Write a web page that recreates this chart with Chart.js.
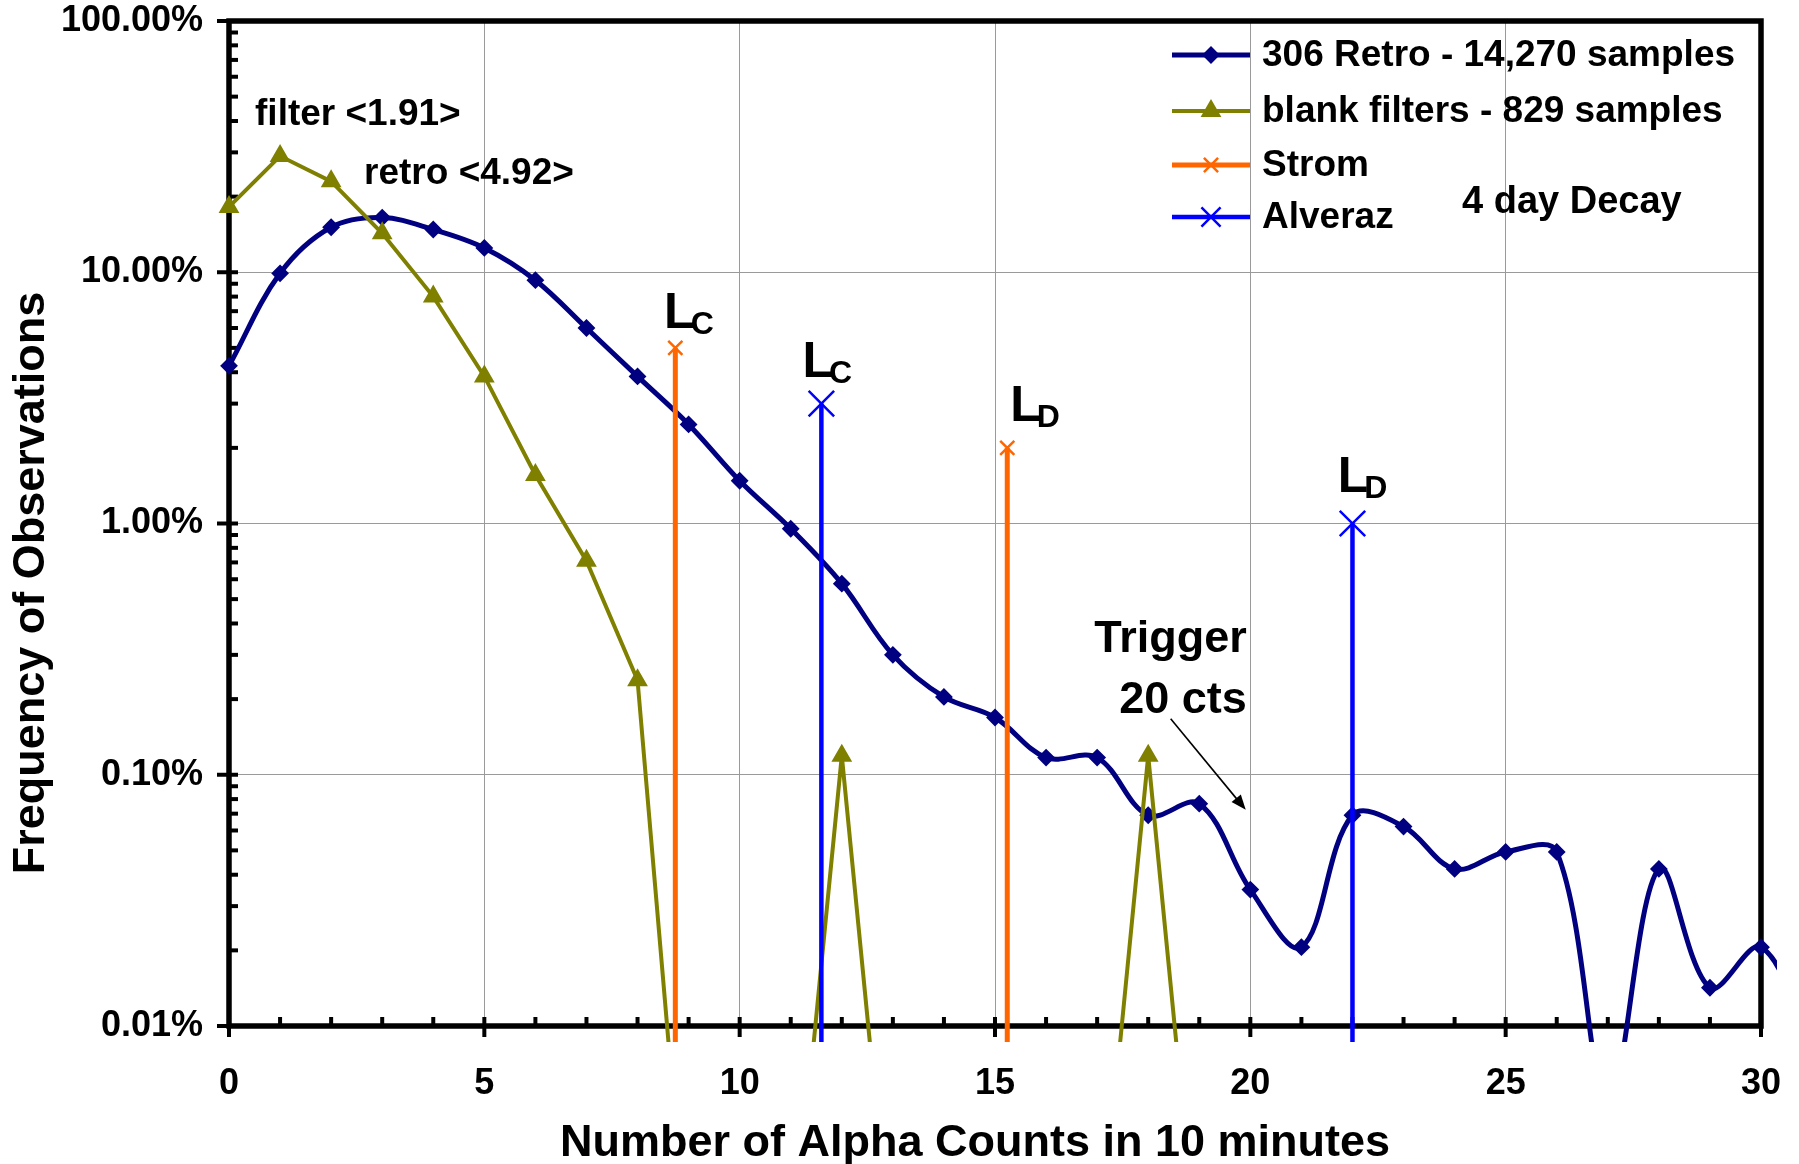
<!DOCTYPE html>
<html><head><meta charset="utf-8">
<script src="https://cdn.jsdelivr.net/npm/chart.js@4.4.1/dist/chart.umd.min.js"></script>
<style>html,body{margin:0;padding:0;background:#fff}#wrap{width:1799px;height:1164px;position:relative}</style>
</head><body><div id="wrap"><canvas id="c"></canvas></div>
<script>
// ---- data (percent of observations) ----
const retroCounts = [0,1,2,3,4,5,6,7,8,9,10,11,12,13,14,15,16,17,18,19,20,21,22,23,24,25,26,27,28,29,30,31];
const retroPct    = [4.24,9.9,15.1,16.5,14.8,12.5,9.3,6.0,3.85,2.48,1.48,0.953,0.576,0.300,0.204,0.169,0.117,0.117,0.069,0.0767,0.0349,0.0206,0.069,0.0622,0.0422,0.0493,0.0493,0.005,0.0422,0.0142,0.0206,0.008];
const blankCounts = [0,1,2,3,4,5,6,7,8,9,10,11,12,13,14,15,16,17,18,19,20,21,22,23,24,25,26,27,28,29,30];
const blankPct    = [18.2,29.0,23.0,14.3,8.0,3.85,1.56,0.71,0.238,0,0,0,0.119,0,0,0,0,0,0.119,0,0,0,0,0,0,0,0,0,0,0,0];
const stromCounts = [8.74,15.24];          // Strom LC, LD
const stromPct    = [5,2];
const alverazCounts = [11.6,22];           // Alveraz LC, LD
const alverazPct    = [3,1];
const yTickValues = [0.01,0.1,1,10,100];
const seriesNames = ['306 Retro - 14,270 samples','blank filters - 829 samples','Strom','Alveraz'];
// zero values cannot sit on a log axis: they are drawn far below the axis (clipped)
const LOG_FLOOR = 0.001;

// annotations placed in data coordinates
const limitLabels = [
  {main:'L', sub:'C', x:8.52,  y:5.98},
  {main:'L', sub:'C', x:11.23, y:3.82},
  {main:'L', sub:'D', x:15.30, y:2.55},
  {main:'L', sub:'D', x:21.71, y:1.33}
];
const noteLabels = [
  {text:'filter <1.91>', x:0.51, y:42.2, align:'left', size:37},
  {text:'retro <4.92>',  x:2.645, y:24.6, align:'left', size:37},
  {text:'Trigger',       x:19.93, y:0.345, align:'right', size:45},
  {text:'20 cts',        x:19.93, y:0.197, align:'right', size:45}
];
const arrowFrom = {x:18.44, y:0.167};
const arrowTo   = {x:19.91, y:0.0725};

const FONT = '"Liberation Sans", Arial, sans-serif';
const NAVY='#000080', OLIVE='#808000', ORANGE='#FF6600', BLUE='#0000FF';

const floorV = v => v > 0 ? v : LOG_FLOOR;
const pairs = (xs, ys) => xs.map((x,i)=>({x, y: floorV(ys[i])}));
const spikes = (xs, tops) => {
  const out = [];
  xs.forEach((x,i)=>{
    if (i % 2 === 0) { out.push({x, y: tops[i]}); out.push({x, y: floorV(0)}); }
    else { out.push({x, y: floorV(0)}); out.push({x, y: tops[i]}); }
  });
  return out;
};

const datasets = [
  {label: seriesNames[0], data: pairs(retroCounts, retroPct), borderColor:NAVY, backgroundColor:NAVY,
   borderWidth:5, tension:0.36, pointStyle:'rectRot', pointRadius:7.5, pointBorderWidth:2, order:3, clip:16},
  {label: seriesNames[1], data: pairs(blankCounts, blankPct), borderColor:OLIVE, backgroundColor:OLIVE,
   borderWidth:4, tension:0, pointStyle:'triangle', pointRadius:10, pointBorderWidth:2, order:2, clip:16},
  {label: seriesNames[2], data: spikes(stromCounts, stromPct), borderColor:ORANGE, backgroundColor:ORANGE,
   borderWidth:5, tension:0, pointStyle:'crossRot', pointRadius:10, pointBorderWidth:2.5, order:1, clip:16},
  {label: seriesNames[3], data: spikes(alverazCounts, alverazPct), borderColor:BLUE, backgroundColor:BLUE,
   borderWidth:4.5, tension:0, pointStyle:'crossRot', pointRadius:18, pointBorderWidth:2.5, order:0, clip:16}
];

function line(ctx,x1,y1,x2,y2){ctx.beginPath();ctx.moveTo(x1,y1);ctx.lineTo(x2,y2);ctx.stroke();}

const deco = {
  id:'deco',
  beforeDatasetsDraw(chart){
    const {ctx, chartArea:a, scales:{x,y}} = chart;
    ctx.save();
    ctx.strokeStyle='#000'; ctx.lineCap='butt';
    ctx.lineWidth=4;
    for (let d=-2; d<2; d++) for (let m=2; m<=9; m++){
      const py = y.getPixelForValue(m*Math.pow(10,d));
      line(ctx, a.left, py, a.left+9, py);
    }
    yTickValues.forEach(v=>{ const py=y.getPixelForValue(v); line(ctx, a.left-12, py, a.left+9, py); });
    for (let i=0;i<=30;i++){
      const px = x.getPixelForValue(i);
      if (i%5) line(ctx, px, a.bottom, px, a.bottom-9);
      else line(ctx, px, a.bottom+11, px, a.bottom-9);
    }
    ctx.lineWidth=5.5;
    ctx.strokeRect(a.left, a.top, a.right-a.left, a.bottom-a.top);
    ctx.restore();
  },
  afterDatasetsDraw(chart){
    const {ctx, chartArea:a, scales:{x,y}} = chart;
    ctx.save();
    ctx.fillStyle='#000';
    // limit labels
    limitLabels.forEach(l=>{
      const px=x.getPixelForValue(l.x), py=y.getPixelForValue(l.y);
      ctx.font='bold 50px '+FONT; ctx.textAlign='left'; ctx.textBaseline='alphabetic';
      ctx.fillText(l.main, px, py);
      const w = ctx.measureText(l.main).width;
      ctx.font='bold 32px '+FONT;
      ctx.fillText(l.sub, px+w-4, py+6);
    });
    // notes
    noteLabels.forEach(n=>{
      ctx.font='bold '+n.size+'px '+FONT; ctx.textAlign=n.align; ctx.textBaseline='middle';
      ctx.fillText(n.text, x.getPixelForValue(n.x), y.getPixelForValue(n.y));
    });
    // arrow
    const x1=x.getPixelForValue(arrowFrom.x), y1=y.getPixelForValue(arrowFrom.y);
    const x2=x.getPixelForValue(arrowTo.x), y2=y.getPixelForValue(arrowTo.y);
    ctx.strokeStyle='#000'; ctx.lineWidth=1.6;
    const ang=Math.atan2(y2-y1,x2-x1);
    line(ctx,x1,y1,x2-10*Math.cos(ang),y2-10*Math.sin(ang));
    ctx.beginPath();
    ctx.moveTo(x2,y2);
    ctx.lineTo(x2-15*Math.cos(ang)+6*Math.sin(ang), y2-15*Math.sin(ang)-6*Math.cos(ang));
    ctx.lineTo(x2-15*Math.cos(ang)-6*Math.sin(ang), y2-15*Math.sin(ang)+6*Math.cos(ang));
    ctx.closePath(); ctx.fill();
    // legend
    const rows=[55,111,165,217];
    chart.data.datasets.forEach((ds,i)=>{
      const ry=rows[i];
      ctx.strokeStyle=ds.borderColor; ctx.fillStyle=ds.backgroundColor; ctx.lineWidth=ds.borderWidth;
      line(ctx,1172,ry,1250,ry);
      ctx.lineWidth=ds.pointBorderWidth;
      Chart.helpers.drawPoint(ctx,{pointStyle:ds.pointStyle, radius:ds.pointRadius*(i===3?0.75:1), rotation:0, borderWidth:ds.pointBorderWidth}, 1211, ry);
      ctx.fillStyle='#000';
      ctx.font='bold 37px '+FONT; ctx.textAlign='left'; ctx.textBaseline='middle';
      ctx.fillText(ds.label, 1262, ry+1);
    });
    ctx.font='bold 38px '+FONT; ctx.textAlign='left'; ctx.textBaseline='middle';
    ctx.fillText('4 day Decay', 1462, 203);
    // axis titles
    ctx.font='bold 45px '+FONT; ctx.textAlign='center'; ctx.textBaseline='middle';
    ctx.fillText('Number of Alpha Counts in 10 minutes', 975, 1144);
    ctx.save(); ctx.translate(32,583); ctx.rotate(-Math.PI/2);
    ctx.fillText('Frequency of Observations', 0, 0); ctx.restore();
    ctx.restore();
  }
};

new Chart(document.getElementById('c'), {
  type:'line',
  data:{datasets},
  options:{
    responsive:true, maintainAspectRatio:false, animation:false,
    layout:{padding:{left:0,top:21,right:38,bottom:0}},
    elements:{line:{capBezierPoints:false}},
    plugins:{legend:{display:false}, tooltip:{enabled:false}},
    scales:{
      x:{type:'linear',
         afterDataLimits(s){ s.min = 0; s.max = 30; },
         ticks:{stepSize:5, color:'#000', font:{family:FONT, size:36, weight:'bold'}, padding:36},
         grid:{color:'#9a9a9a', lineWidth:1, drawTicks:false},
         border:{display:false},
         afterFit(s){ s.height = 138; s.paddingLeft = 0; s.paddingRight = 0; }},
      y:{type:'logarithmic', min:0.01, max:100,
         afterBuildTicks(s){ s.ticks = yTickValues.map(v=>({value:v})); },
         ticks:{color:'#000', font:{family:FONT, size:36, weight:'bold'}, padding:26,
                callback:(v)=> Number(v).toFixed(2)+'%'},
         grid:{color:'#9a9a9a', lineWidth:1, drawTicks:false},
         border:{display:false},
         afterFit(s){ s.width = 229; s.paddingTop = 0; s.paddingBottom = 0; }}
    }
  },
  plugins:[deco]
});
</script></body></html>
